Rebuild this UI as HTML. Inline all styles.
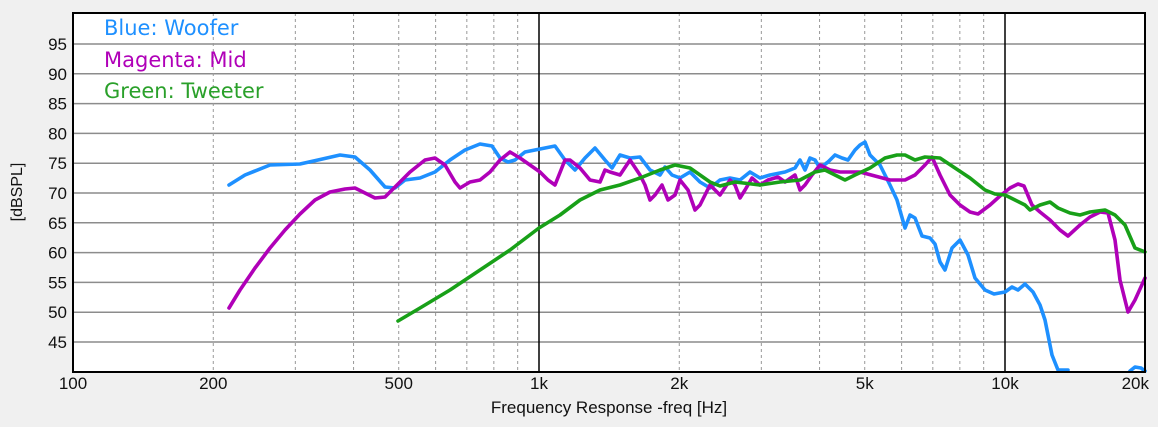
<!DOCTYPE html>
<html><head><meta charset="utf-8"><style>
html,body{margin:0;padding:0;background:#f0f0f0;}
svg{display:block;font-family:"Liberation Sans","DejaVu Sans",sans-serif;}
</style></head><body>
<svg width="1158" height="427" viewBox="0 0 1158 427" xmlns="http://www.w3.org/2000/svg">
<rect x="0" y="0" width="1158" height="427" fill="#f0f0f0"/>
<rect x="73" y="13" width="1072" height="359" fill="#ffffff"/>
<g id="grid"></g>
<g fill="none" stroke-width="3.6" stroke-linejoin="round" stroke-linecap="round">
<polyline stroke="#1e90ff" points="229,185 245,175 270,165 300,164 318,160 340,155 355,157 370,170 385,187 395,188 405,180 420,178 435,172 450,160 465,150 480,144 492,146 500,158 508,162 515,160 525,152 535,150 545,148 555,146 565,160 575,170 585,158 595,148 605,160 612,168 620,155 630,158 640,157 650,170 660,175 665,167 672,175 680,178 690,172 700,182 710,188 720,180 730,178 740,180 750,172 760,178 770,175 785,172 795,168 800,160 805,170 810,158 815,160 820,168 828,162 835,155 842,158 848,160 855,150 860,145 865,142 870,155 880,165 890,185 897,200 905,228 910,215 915,218 922,236 930,238 935,244 940,262 945,270 952,248 960,240 968,255 975,278 985,290 994,294 1005,292 1012,287 1018,290 1025,284 1033,292 1040,305 1045,320 1052,355 1058,370 1068,370"/>
<polyline stroke="#1e90ff" points="1130,371 1135,367 1141,368 1145,371"/>
<polyline stroke="#b000b8" points="229,308 240,290 255,268 270,248 285,230 300,214 315,200 330,192 345,189 355,188 365,193 375,198 385,197 395,187 410,172 425,160 435,158 445,165 455,182 460,188 470,182 480,180 490,172 500,160 510,152 520,158 530,165 540,172 548,180 555,185 565,160 570,160 580,168 590,180 600,182 605,170 610,172 620,175 630,160 640,175 645,185 650,200 655,195 662,185 668,200 675,195 680,180 688,190 695,210 700,205 710,185 720,195 730,180 735,185 740,198 745,190 752,178 760,185 768,180 778,177 785,182 795,175 800,190 805,185 812,175 820,165 830,170 840,172 860,172 875,176 890,180 905,180 915,175 925,165 932,157 940,175 950,195 960,205 970,212 978,214 990,205 1000,196 1010,188 1018,184 1024,186 1032,205 1040,212 1050,220 1060,230 1068,236 1080,225 1090,217 1100,212 1108,213 1115,240 1120,280 1128,312 1135,300 1145,278"/>
<polyline stroke="#18a018" points="398,321 420,308 450,290 480,270 510,250 539,228 560,215 580,200 600,190 620,185 640,178 660,170 675,165 690,168 700,175 710,182 720,186 735,182 760,185 780,182 800,180 815,172 825,170 835,175 845,180 855,175 870,168 885,158 897,155 905,155 915,160 925,157 940,158 955,168 970,178 985,190 995,194 1005,195 1015,200 1025,205 1030,210 1040,205 1050,202 1058,208 1070,213 1080,215 1090,212 1105,210 1115,215 1125,225 1135,248 1145,252"/>
</g>
<rect x="73" y="13" width="1072" height="359" fill="none" stroke="#000" stroke-width="2"/>
<g font-size="21" font-family="'DejaVu Sans',sans-serif">
<text x="104" y="35" fill="#1e90ff">Blue: Woofer</text>
<text x="104" y="67" fill="#b000b8">Magenta: Mid</text>
<text x="104" y="98" fill="#2aa02a">Green: Tweeter</text>
</g>
<g id="ylab" font-size="17" fill="#111" text-anchor="end"></g>
<g id="xlab" font-size="17" fill="#111" text-anchor="middle"></g>
<text x="22" y="192" font-size="16" fill="#111" text-anchor="middle" transform="rotate(-90 22 192)">[dBSPL]</text>
<text x="609" y="413" font-size="17" fill="#111" text-anchor="middle">Frequency Response -freq [Hz]</text>
<script>
var ns="http://www.w3.org/2000/svg",g=document.getElementById('grid');
function X(f){return 73+466*Math.log10(f/100);}
function Y(v){return 44+(95-v)*5.96;}
function ln(x1,y1,x2,y2,s,w,d){var l=document.createElementNS(ns,'line');l.setAttribute('x1',x1);l.setAttribute('y1',y1);l.setAttribute('x2',x2);l.setAttribute('y2',y2);l.setAttribute('stroke',s);l.setAttribute('stroke-width',w);if(d)l.setAttribute('stroke-dasharray',d);g.appendChild(l);}
for(var v=45;v<=95;v+=5)ln(73,Y(v),1145,Y(v),'#8c8c8c',1.5);
[100,1000,10000].forEach(function(d){for(var k=2;k<=9;k++){var f=d*k;if(f>20000)break;ln(X(f),13,X(f),372,'#999',1,'3,3');}});
ln(X(1000),13,X(1000),372,'#000',1.5);ln(X(10000),13,X(10000),372,'#000',1.5);
var yl=document.getElementById('ylab');
for(var v=45;v<=95;v+=5){var t=document.createElementNS(ns,'text');t.setAttribute('x',67);t.setAttribute('y',Y(v)+6);t.textContent=v;yl.appendChild(t);}
var xl=document.getElementById('xlab');
[[100,'100'],[200,'200'],[500,'500'],[1000,'1k'],[2000,'2k'],[5000,'5k'],[10000,'10k'],[20000,'20k']].forEach(function(p){var t=document.createElementNS(ns,'text');var x=X(p[0]);if(p[0]==20000)x-=10;t.setAttribute('x',x);t.setAttribute('y',389);t.textContent=p[1];xl.appendChild(t);});
</script>
</svg>
</body></html>
